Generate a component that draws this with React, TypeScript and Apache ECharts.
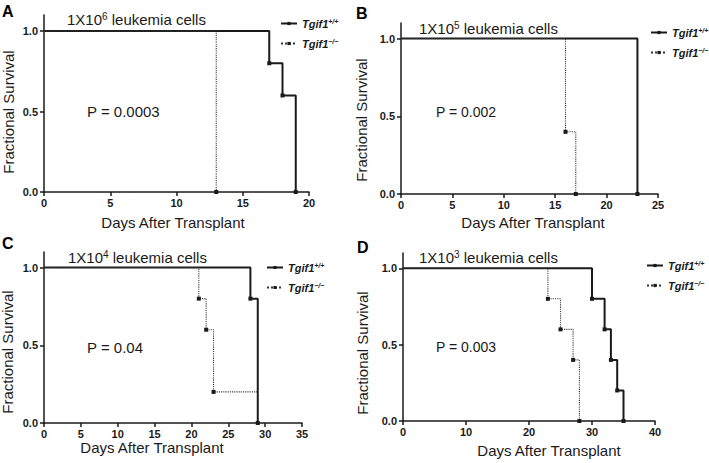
import React, { useEffect, useRef } from "react";
import * as echarts from "echarts";

const panelLetters = ["A", "B", "C", "D"];
const cellExponents = ["6", "5", "4", "3"];
const pValueTexts = ["P = 0.0003", "P = 0.002", "P = 0.04", "P = 0.003"];
const xMaxes = [20, 25, 35, 40];
const xIntervals = [5, 5, 5, 10];
const yTicks = [0, 0.5, 1];
const xTitle = "Days After Transplant";
const yTitle = "Fractional Survival";

const wtName = "Tgif1+/+";
const koName = "Tgif1\u2212/\u2212";

const wtDays = [[0, 17, 18, 19], [0, 23], [0, 28, 29], [0, 30, 32, 33, 34, 35]];
const wtSurv = [[1, 0.8, 0.6, 0], [1, 0], [1, 0.8, 0], [1, 0.8, 0.6, 0.4, 0.2, 0]];
const koDays = [[0, 13], [0, 16, 17], [0, 21, 22, 23, 29], [0, 23, 25, 27, 28]];
const koSurv = [[1, 0], [1, 0.4, 0], [1, 0.8, 0.6, 0.2, 0.2], [1, 0.8, 0.6, 0.4, 0]];
const koCensoredDays = [[], [], [29], []];

// layout (pixels)
const grids = [
  { left: 44, top: 15, width: 265, height: 177 },
  { left: 401, top: 23, width: 257, height: 171 },
  { left: 44, top: 252, width: 258, height: 171 },
  { left: 403, top: 253, width: 252, height: 168 },
];
const letterPos = [[2, 3], [356, 5], [2, 235], [357, 239]];
const titlePos = [[67, 11], [419, 20], [68, 249], [419, 249]];
const pPos = [[87, 104], [436, 105], [87, 340], [436, 340]];
const pSizes = [15, 14, 15, 14];
const legendPos = [[275, 13], [645, 22], [261, 257], [641, 255]];
const xTitlePos = [[173, 222], [533, 222], [152, 447], [549, 450]];
const yTitlePos = [[8, 112], [361, 120], [7, 352], [362, 353]];

const INK = "#1a1a1a";

function buildData(days: number[], surv: number[], censored: number[]) {
  return days.map((d, i) => {
    const noSym = i === 0 || censored.indexOf(d) >= 0;
    return noSym ? { value: [d, surv[i]], symbol: "none" } : { value: [d, surv[i]] };
  });
}

export default function App() {
  const ref = useRef<HTMLDivElement>(null);
  useEffect(() => {
    if (!ref.current) return;
    const chart = echarts.init(ref.current, null, { renderer: "svg" });
    const font = "Liberation Sans, Arial, Helvetica, sans-serif";

    const xAxis: any[] = [];
    const yAxis: any[] = [];
    const series: any[] = [];
    const legend: any[] = [];
    const graphic: any[] = [];

    grids.forEach((g, i) => {
      xAxis.push({
        type: "value",
        gridIndex: i,
        min: 0,
        max: xMaxes[i],
        interval: xIntervals[i],
        axisLine: { onZero: false, lineStyle: { color: INK, width: 1.5 } },
        axisTick: { show: true, inside: false, length: 4, lineStyle: { color: INK, width: 1.5 } },
        axisLabel: { fontSize: 11, fontWeight: "bold", color: INK, margin: 5, fontFamily: font },
        splitLine: { show: false },
      });
      yAxis.push({
        type: "value",
        gridIndex: i,
        min: 0,
        max: 1.1,
        axisLine: { show: true, lineStyle: { color: INK, width: 1.5 } },
        axisTick: { show: true, inside: false, length: 4, customValues: yTicks, lineStyle: { color: INK, width: 1.5 } },
        axisLabel: {
          fontSize: 11,
          fontWeight: "bold",
          color: INK,
          margin: 6,
          fontFamily: font,
          customValues: yTicks,
          formatter: (v: number) => v.toFixed(1),
        },
        splitLine: { show: false },
      });
      series.push({
        type: "line",
        name: wtName,
        xAxisIndex: i,
        yAxisIndex: i,
        step: "end",
        data: buildData(wtDays[i], wtSurv[i], []),
        symbol: "rect",
        symbolSize: 4,
        itemStyle: { color: INK },
        lineStyle: { color: INK, width: 2, type: "solid" },
        clip: false,
      });
      series.push({
        type: "line",
        name: koName,
        xAxisIndex: i,
        yAxisIndex: i,
        step: "end",
        data: buildData(koDays[i], koSurv[i], koCensoredDays[i]),
        symbol: "rect",
        symbolSize: 4,
        itemStyle: { color: INK },
        lineStyle: { color: "#333", width: 1.1, type: "dotted" },
        clip: false,
      });
      legend.push({
        data: [wtName, koName],
        orient: "vertical",
        left: legendPos[i][0],
        top: legendPos[i][1],
        itemWidth: 16,
        itemHeight: 4,
        itemGap: 9,
        selectedMode: false,
        textStyle: {
          color: INK,
          fontFamily: font,
          rich: {
            b: { fontSize: 11, fontWeight: "bold", fontStyle: "italic", color: INK, fontFamily: font },
            s: { fontSize: 7, fontWeight: "bold", fontStyle: "italic", color: INK, fontFamily: font, verticalAlign: "top", padding: [0, 0, 4, 0] },
          },
        },
        formatter: (n: string) => "{b|Tgif1}{s|" + n.slice(5) + "}",
      });
      graphic.push({
        type: "text",
        left: letterPos[i][0],
        top: letterPos[i][1],
        style: { text: panelLetters[i], font: "bold 16px " + font, fill: "#000" },
      });
      graphic.push({
        type: "text",
        left: titlePos[i][0],
        top: titlePos[i][1],
        style: {
          text: "{n|1X10}{s|" + cellExponents[i] + "}{n| leukemia cells}",
          fill: INK,
          rich: {
            n: { fontSize: 15, fontFamily: font, fill: INK, color: INK },
            s: { fontSize: 10, fontFamily: font, fill: INK, color: INK, verticalAlign: "top", padding: [0, 0, 6, 0] },
          },
        },
      });
      graphic.push({
        type: "text",
        left: pPos[i][0],
        top: pPos[i][1],
        style: { text: pValueTexts[i], font: pSizes[i] + "px " + font, fill: INK },
      });
      graphic.push({
        type: "text",
        x: xTitlePos[i][0],
        y: xTitlePos[i][1],
        style: { text: xTitle, font: "15px " + font, fill: INK, align: "center", verticalAlign: "middle" },
      });
      graphic.push({
        type: "text",
        x: yTitlePos[i][0],
        y: yTitlePos[i][1],
        rotation: Math.PI / 2,
        style: { text: yTitle, font: "15px " + font, fill: INK, align: "center", verticalAlign: "middle" },
      });
    });

    chart.setOption({
      animation: false,
      backgroundColor: "#fff",
      grid: grids.map((g) => ({ ...g, containLabel: false })),
      xAxis,
      yAxis,
      series,
      legend,
      graphic,
    });
    return () => chart.dispose();
  }, []);
  return <div ref={ref} style={{ position: "fixed", left: 0, top: 0, width: 709, height: 463 }} />;
}
